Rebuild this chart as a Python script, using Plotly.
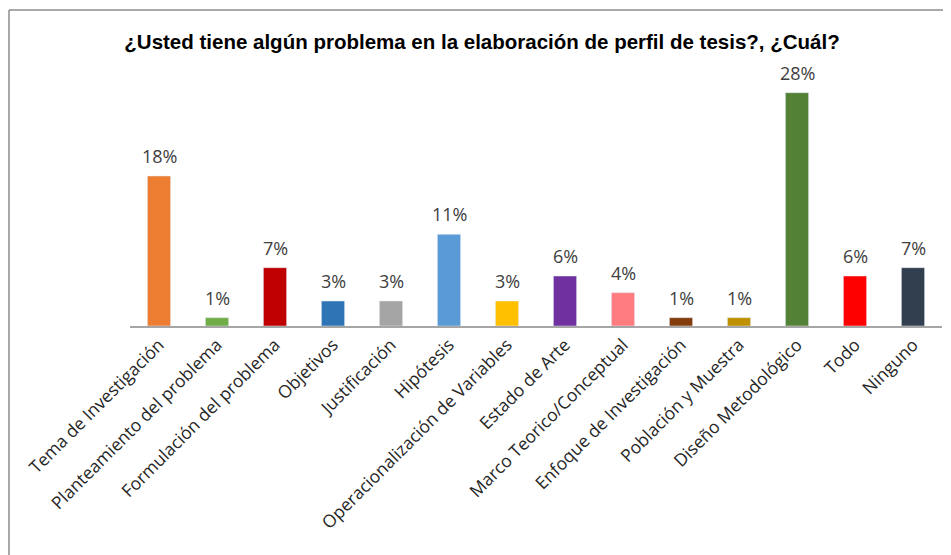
import plotly.graph_objects as go

categories = ["Tema de Investigación", "Planteamiento del problema", "Formulación del problema",
              "Objetivos", "Justificación", "Hipótesis", "Operacionalización de Variables",
              "Estado de Arte", "Marco Teorico/Conceptual", "Enfoque de Investigación",
              "Población y Muestra", "Diseño Metodológico", "Todo", "Ninguno"]
values = [18, 1, 7, 3, 3, 11, 3, 6, 4, 1, 1, 28, 6, 7]
colors = ["#ED7D31", "#70AD47", "#C00000", "#2E75B6", "#A5A5A5", "#5B9BD5", "#FFC000",
          "#7030A0", "#FF7C80", "#843C0C", "#BF9000", "#538135", "#FF0000", "#323F4F"]
labels = [f"{v}%" for v in values]
title = "¿Usted tiene algún problema en la elaboración de perfil de tesis?, ¿Cuál?"

# page body has an 8px margin; figure sized to fit the window
OFF = 8
W, H = 951 - OFF, 555 - OFF
ml, mt = 130 - OFF, 76 - OFF
mr = W - (942 - OFF)
mb = H - (326 - OFF)
pw, ph = W - ml - mr, H - mt - mb

fig = go.Figure(go.Bar(
    x=categories, y=values, marker_color=colors, width=0.4,
))

for c, v, t in zip(categories, values, labels):
    fig.add_annotation(x=c, y=v, text=t, showarrow=False, yanchor="bottom",
                       yshift=6, font=dict(family="Open Sans", size=18, color="#404040"))

def px_x(p):
    return (p - OFF - ml) / pw

def px_y(p):
    return (H - mb - (p - OFF)) / ph

fig.update_layout(
    width=W, height=H,
    margin=dict(l=ml, r=mr, t=mt, b=mb, autoexpand=False),
    paper_bgcolor="white", plot_bgcolor="white",
    title=dict(text=f"<b>{title}</b>", x=(482 - OFF) / W, xref="container", xanchor="center",
               y=1 - (42 - OFF) / H, yref="container", yanchor="middle",
               font=dict(family="Liberation Sans", size=20.5, color="#000000")),
    xaxis=dict(tickangle=-45, showline=True, linecolor="#A6A6A6", linewidth=1.5,
               ticks="", range=[-0.5, 13.5], automargin=False,
               tickfont=dict(family="Open Sans", size=17.5, color="#262626")),
    yaxis=dict(range=[0, 30], visible=False, showgrid=False, automargin=False),
    showlegend=False,
    shapes=[
        dict(type="line", xref="paper", yref="paper", x0=px_x(9), x1=px_x(960),
             y0=px_y(10), y1=px_y(10), line=dict(color="#8C8C8C", width=1.5)),
        dict(type="line", xref="paper", yref="paper", x0=px_x(9), x1=px_x(9),
             y0=px_y(10), y1=px_y(560), line=dict(color="#8C8C8C", width=1.5)),
    ],
)

fig.write_html("out.html")
